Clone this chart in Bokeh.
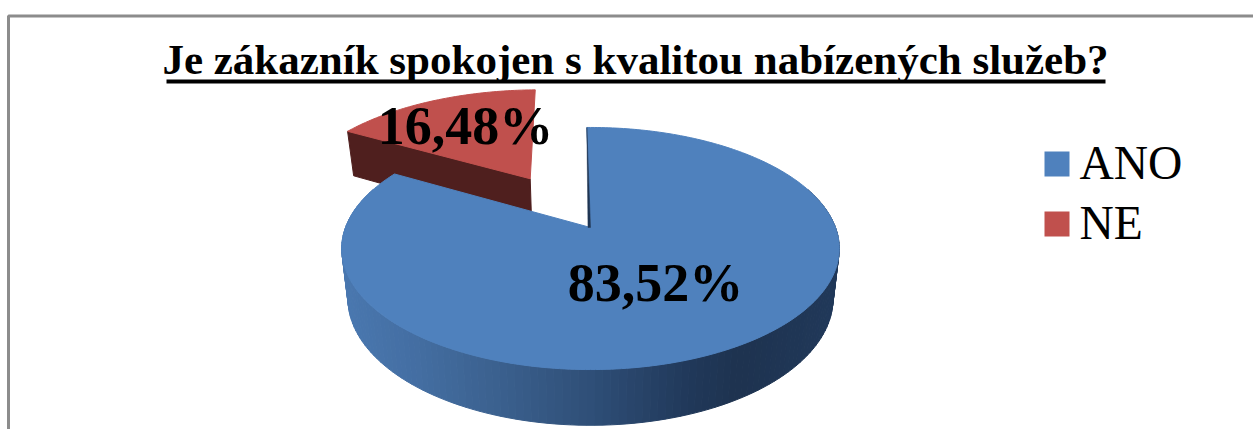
import numpy as np
from bokeh.plotting import figure
from bokeh.models import Range1d
from bokeh.core.properties import value
from bokeh.embed import file_html
from bokeh.resources import INLINE

title_text = "Je zákazník spokojen s kvalitou nabízených služeb?"
categories = ["ANO", "NE"]
shares = [83.52, 16.48]
share_labels = ["83,52%", "16,48%"]

W, H = 1253, 429
TOP, SIDE = "#4f81bd", "#c0504d"
RED_WALL, BLUE_EDGE = "#4f1f1e", "#1f3552"
SERIF = "Liberation Serif"

# pie projection (perspective tilt)
CX, CY, KX, HY, PERSP = 590.0, 227.0, 245.0, 117.4, 0.1736
WALL, BOTTOM_SCALE = 49.0, 0.975
ROTATION = -1.0
EXPLODE, RED_SCALE = 0.52, 1.025
STOPS_T = [0.0, 0.15, 0.3, 0.5, 0.7, 0.8, 1.0]
STOPS = [(74, 120, 176), (68, 110, 162), (60, 98, 144), (47, 79, 120), (33, 57, 90), (30, 51, 80), (33, 57, 90)]


def project(u, v, scale=1.0, drop=0.0):
    d = 1 - PERSP * v
    return CX + scale * KX * u / d, CY + scale * HY * v / d + drop / d


def pt(a_deg, r=1.0, off=(0.0, 0.0)):
    a = np.radians(a_deg)
    return off[0] + r * np.sin(a), off[1] - r * np.cos(a)


def color_at(t):
    c = [int(np.interp(t, STOPS_T, [s[i] for s in STOPS])) for i in range(3)]
    return "#%02x%02x%02x" % tuple(c)


start = ROTATION
blue_end = start + 360 * shares[0] / sum(shares)
red_end = blue_end + 360 * shares[1] / sum(shares)
mid = np.radians((blue_end + red_end) / 2)
off = (EXPLODE * np.sin(mid), -EXPLODE * np.cos(mid))

p = figure(width=W, height=H, x_range=Range1d(0, W), y_range=Range1d(H, 0),
           output_backend="svg", toolbar_location=None, min_border=0,
           x_axis_type=None, y_axis_type=None, outline_line_color=None)
p.grid.visible = False
p.styles = {"position": "absolute", "left": "0", "top": "0"}

# frame
p.line([W, 8, 8], [15.5, 15.5, H], line_color="#8c8c8c", line_width=3)

# red slice: cut face then top
ax, ay = project(off[0], off[1])
lu, lv = pt(blue_end, RED_SCALE, off)
tl = project(lu, lv)
bl = project(lu, lv, BOTTOM_SCALE, WALL)
ba = project(off[0], off[1], BOTTOM_SCALE, WALL)
p.patch([ax, tl[0], bl[0], ba[0]], [ay, tl[1], bl[1], ba[1]], fill_color=RED_WALL, line_color=RED_WALL)
angs = np.linspace(blue_end, red_end, 60)
rim = [project(*pt(a, RED_SCALE, off)) for a in angs]
p.patch([ax] + [q[0] for q in rim], [ay] + [q[1] for q in rim], fill_color=SIDE, line_color=SIDE)

# blue wall strips, shaded by horizontal position
wall_angs = np.linspace(70, min(blue_end, 290), 140)
xs, ys = [], []
for a1, a2 in zip(wall_angs[:-1], wall_angs[1:]):
    u1, v1 = pt(a1)
    u2, v2 = pt(a2)
    t1, t2 = project(u1, v1), project(u2, v2)
    b1, b2 = project(u1, v1, BOTTOM_SCALE, WALL), project(u2, v2, BOTTOM_SCALE, WALL)
    xs.append([t1[0], t2[0], b2[0], b1[0]])
    ys.append([t1[1], t2[1], b2[1], b1[1]])
cols = [color_at((0.5 * (x[0] + x[1]) - (CX - 1.015 * KX)) / (2 * 1.015 * KX)) for x in xs]
p.patches(xs, ys, fill_color=cols, line_color=cols, line_width=1)

# blue top
angs = np.linspace(start, blue_end, 300)
rim = [project(*pt(a)) for a in angs]
p.patch([CX] + [q[0] for q in rim], [CY] + [q[1] for q in rim], fill_color=TOP, line_color=TOP)

# sliver of the blue cut face at the gap
p.patch([rim[0][0], CX, CX - 2.5], [rim[0][1], CY, CY], fill_color=BLUE_EDGE, line_color=BLUE_EDGE, line_width=0.5)

# title
p.text([635], [59], text=[title_text], text_font=value(SERIF), text_font_style="bold",
       text_font_size="43px", text_align="center", text_baseline="alphabetic", text_color="black")
p.quad(left=[166], right=[1105], top=[79], bottom=[83], fill_color="black", line_color=None)

# value labels
p.text([655, 465], [282, 125], text=share_labels, text_font=value(SERIF), text_font_style="bold",
       text_font_size="54px", text_align="center", text_baseline="alphabetic", text_color="black")

# legend
p.quad(left=[1044, 1044], right=[1069, 1069], top=[151, 211], bottom=[176, 236],
       fill_color=[TOP, SIDE], line_color=None)
p.text([1079, 1079], [162, 222], text=categories, text_font=value(SERIF),
       text_font_size="47.5px", text_align="left", text_baseline="alphabetic", text_color="black")

open("out.html", "w").write(file_html(p, INLINE))
